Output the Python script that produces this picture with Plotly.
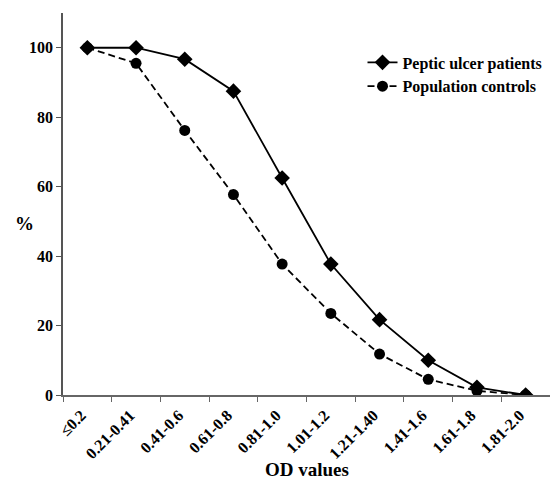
import plotly.graph_objects as go

categories = ["≤0.2", "0.21-0.41", "0.41-0.6", "0.61-0.8", "0.81-1.0",
              "1.01-1.2", "1.21-1.40", "1.41-1.6", "1.61-1.8", "1.81-2.0"]
peptic = [100, 100, 96.7, 87.5, 62.5, 37.7, 21.7, 10.0, 2.2, 0]
controls = [100, 95.5, 76.2, 57.7, 37.7, 23.5, 11.8, 4.5, 1.2, 0]
y_ticks = [0, 20, 40, 60, 80, 100]

FONT = "Liberation Serif, Times New Roman, serif"

fig = go.Figure()
fig.add_trace(go.Scatter(
    x=categories, y=peptic, name="<b>Peptic ulcer patients</b>",
    mode="lines+markers",
    line=dict(color="black", width=1.8),
    marker=dict(symbol="diamond", size=12, color="black"),
))
fig.add_trace(go.Scatter(
    x=categories, y=controls, name="<b>Population controls</b>",
    mode="lines+markers",
    line=dict(color="black", width=1.8, dash="7px,4px"),
    marker=dict(symbol="circle", size=11, color="black"),
))

fig.update_layout(
    width=550, height=486,
    margin=dict(l=63, r=0, t=13, b=91),
    paper_bgcolor="white", plot_bgcolor="white",
    font=dict(family=FONT, color="black", size=13),
    showlegend=True,
    legend=dict(x=0.615, y=0.915, xanchor="left", yanchor="top",
                font=dict(family=FONT, size=16, color="black"),
                bgcolor="rgba(0,0,0,0)", tracegroupgap=0, itemwidth=30),
    xaxis=dict(
        type="category", range=[-0.5, 9.5], tickson="boundaries",
        showline=True, linecolor="#666", linewidth=1.5,
        ticks="outside", ticklen=5, tickcolor="#666",
        showgrid=False, zeroline=False, tickangle=-45,
        ticklabelshift=-6, ticklabelstandoff=3,
        tickfont=dict(family=FONT, size=16, weight="bold"),
    ),
    yaxis=dict(
        range=[0, 110], tickvals=y_ticks,
        showline=True, linecolor="#555", linewidth=1.5,
        ticks="outside", ticklen=5, tickcolor="#555",
        showgrid=False, zeroline=False,
        tickfont=dict(family=FONT, size=16, weight="bold"),
    ),
    annotations=[
        dict(text="<b>%</b>", xref="paper", yref="paper", x=-0.08, y=0.45,
             xanchor="center", yanchor="middle", showarrow=False,
             font=dict(family=FONT, size=19)),
        dict(text="<b>OD values</b>", xref="paper", yref="paper", x=0.5, y=-0.196,
             xanchor="center", yanchor="middle", showarrow=False,
             font=dict(family=FONT, size=19)),
    ],
)

fig.write_html("out.html")
